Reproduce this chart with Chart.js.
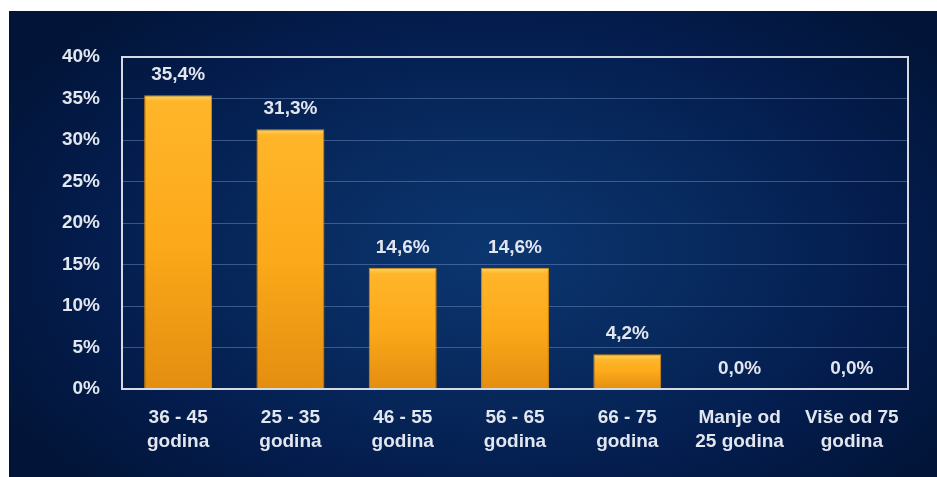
<!DOCTYPE html>
<html>
<head>
<meta charset="utf-8">
<script src="https://cdn.jsdelivr.net/npm/chart.js@4.4.1/dist/chart.umd.min.js"></script>
<style>
  html, body { margin: 0; padding: 0; background: #ffffff; width: 937px; height: 477px; overflow: hidden; }
  #wrap {
    position: absolute; left: 9px; top: 11px; width: 928px; height: 466px;
    background: radial-gradient(ellipse 60% 70% at 52% 52%, #0c3670 0%, #082b60 35%, #041d4e 70%, #021539 100%);
  }
  canvas { display: block; }
</style>
</head>
<body>
<div id="wrap"><canvas id="c" width="928" height="466"></canvas></div>
<script>
const categories = [
  ["36 - 45", "godina"],
  ["25 - 35", "godina"],
  ["46 - 55", "godina"],
  ["56 - 65", "godina"],
  ["66 - 75", "godina"],
  ["Manje od", "25 godina"],
  ["Više od 75", "godina"]
];
const values = [35.4, 31.3, 14.6, 14.6, 4.2, 0.0, 0.0];
const valueLabels = ["35,4%", "31,3%", "14,6%", "14,6%", "4,2%", "0,0%", "0,0%"];
const yTicks = [0, 5, 10, 15, 20, 25, 30, 35, 40];

const FONT = "'Liberation Sans', Arial, sans-serif";
const TEXT = "#e2e6ee";

const boxPlugin = {
  id: 'box',
  afterDatasetsDraw(chart) {
    const a = chart.chartArea, ctx = chart.ctx;
    ctx.save();
    ctx.strokeStyle = '#d6dae2';
    ctx.lineWidth = 2;
    ctx.strokeRect(a.left, a.top, a.right - a.left, a.bottom - a.top);
    ctx.restore();
  }
};

const labelPlugin = {
  id: 'vlabels',
  afterDatasetsDraw(chart) {
    const ctx = chart.ctx;
    const meta = chart.getDatasetMeta(0);
    ctx.save();
    ctx.font = "bold 19px " + FONT;
    ctx.fillStyle = TEXT;
    ctx.textAlign = 'center';
    ctx.textBaseline = 'middle';
    meta.data.forEach((bar, i) => {
      ctx.fillText(valueLabels[i], bar.x, bar.y - 20);
    });
    ctx.restore();
  }
};

function barFill(context) {
  const chart = context.chart;
  if (!chart.chartArea) return '#FDAA18';
  const ys = chart.scales.y;
  const v = context.raw;
  const top = ys.getPixelForValue(v);
  const base = ys.getPixelForValue(0);
  if (base - top < 1) return '#FDAA18';
  const g = chart.ctx.createLinearGradient(0, top, 0, base);
  g.addColorStop(0, '#FFD660');
  g.addColorStop(Math.min(0.5, 6 / (base - top)), '#FFB52A');
  g.addColorStop(0.5, '#FCA91A');
  g.addColorStop(1, '#E48E10');
  return g;
}

new Chart(document.getElementById('c'), {
  type: 'bar',
  data: {
    labels: categories,
    datasets: [{
      data: values,
      backgroundColor: barFill,
      borderColor: '#D98A0C',
      borderWidth: 1,
      barPercentage: 0.605,
      categoryPercentage: 1.0
    }]
  },
  options: {
    responsive: false,
    animation: false,
    events: [],
    layout: { padding: { left: 53, top: 46, right: 29, bottom: 0 } },
    plugins: { legend: { display: false }, tooltip: { enabled: false } },
    scales: {
      x: {
        grid: { display: false, drawTicks: false },
        border: { display: false },
        ticks: {
          color: TEXT,
          font: { family: FONT, size: 19, weight: 'bold', lineHeight: 1.263 },
          padding: 17,
          maxRotation: 0,
          autoSkip: false
        },
        afterFit(scale) { scale.height = 88; }
      },
      y: {
        min: 0, max: 40,
        grid: { color: 'rgba(120,150,205,0.45)', lineWidth: 1, drawTicks: false },
        border: { display: false },
        afterBuildTicks(scale) { scale.ticks = yTicks.map(v => ({ value: v })); },
        ticks: {
          color: TEXT,
          font: { family: FONT, size: 19, weight: 'bold' },
          padding: 22,
          callback: (v) => v + '%'
        },
        afterFit(scale) { scale.width = 60; }
      }
    }
  },
  plugins: [boxPlugin, labelPlugin]
});
</script>
</body>
</html>
